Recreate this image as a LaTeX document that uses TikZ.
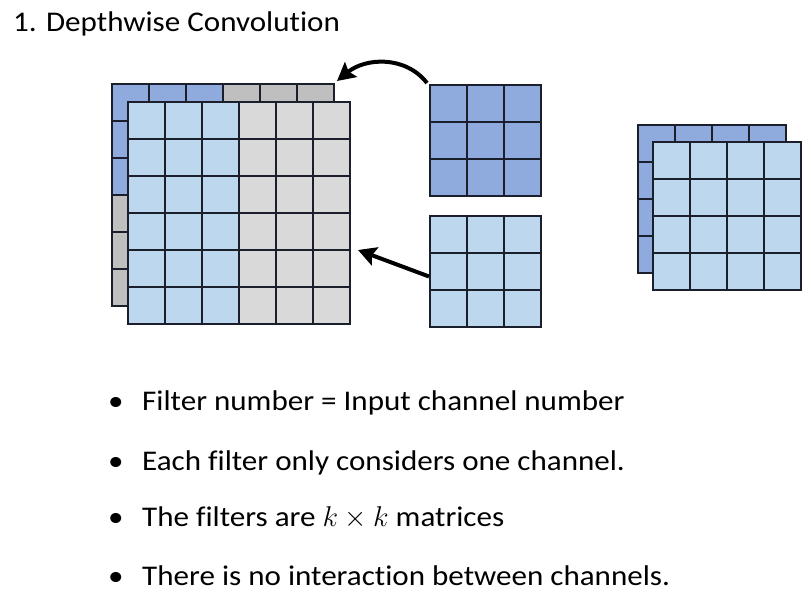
\documentclass[tikz,border=0pt]{standalone}
\usepackage{fontspec}
\setmainfont{Carlito}[Ligatures=CommonOff, FakeStretch=1.09]
\usepackage{xcolor}
\usepackage{tikz}
\usetikzlibrary{arrows.meta, positioning, calc}
\definecolor{dkblue}{HTML}{8FAADC}
\definecolor{ltblue}{HTML}{BDD7EE}
\definecolor{bkgray}{HTML}{BFBFBF}
\definecolor{ltgray}{HTML}{D9D9D9}
\definecolor{gridline}{HTML}{1A1F2B}
\tikzstyle{arrow} = [line width=4pt,-{Stealth[length=18pt,width=19pt,inset=3pt]}]
\tikzstyle{cell} = [rectangle, draw=gridline, line width=1.2pt, minimum size=37pt, inner sep=0pt, outer sep=0pt, anchor=north west]
\tikzstyle{bullettext} = [anchor=base west, inner sep=0pt, font=\fontsize{28.5}{34}\selectfont]

\begin{document}
\begin{tikzpicture}[x=1pt, y=-1pt]
    \useasboundingbox (0,0) rectangle (812,599);
    % Title
    \node[bullettext] (title) at (13,31.5) {1. Depthwise Convolution};

    % Input, back channel
    \foreach \r in {0,...,5}{\foreach \c in {0,...,5}{
        \ifnum\r<3 \ifnum\c<3 \def\cl{dkblue}\else\def\cl{bkgray}\fi\else\def\cl{bkgray}\fi
        \node[cell, fill=\cl] (inb-\r-\c) at ({112+37*\c},{84+37*\r}) {};
    }}
    % Input, front channel
    \foreach \r in {0,...,5}{\foreach \c in {0,...,5}{
        \ifnum\c<3 \def\cl{ltblue}\else\def\cl{ltgray}\fi
        \node[cell, fill=\cl] (inf-\r-\c) at ({128+37*\c},{102+37*\r}) {};
    }}

    % Filters
    \foreach \r in {0,...,2}{\foreach \c in {0,...,2}{
        \node[cell, fill=dkblue] (fa-\r-\c) at ({430+37*\c},{85+37*\r}) {};
        \node[cell, fill=ltblue] (fb-\r-\c) at ({430+37*\c},{216+37*\r}) {};
    }}

    % Output
    \foreach \r in {0,...,3}{\foreach \c in {0,...,3}{
        \node[cell, fill=dkblue] (outb-\r-\c) at ({638+37*\c},{125+37*\r}) {};
    }}
    \foreach \r in {0,...,3}{\foreach \c in {0,...,3}{
        \node[cell, fill=ltblue] (outf-\r-\c) at ({653+37*\c},{142+37*\r}) {};
    }}

    % Relationships
    \coordinate (fastart) at ($(fa-0-0.north west)+(-3,-2)$);
    \coordinate (faend) at ($(inb-0-5.north east)+(3,-3)$);
    \coordinate (fbstart) at ($(fb-1-0.west)+(-1,5)$);
    \coordinate (fbend) at ($(inf-4-5.north east)+(8,0)$);
    \draw[arrow] (fastart) .. controls +(-22,-28) and +(28,-23) .. (faend);
    \draw[arrow] (fbstart) -- (fbend);

    % Bullets
    \foreach \y/\txt [count=\i] in {410.7/{Filter number = Input channel number},
                                    470/{Each filter only considers one channel.},
                                    526.7/{The filters are \scalebox{1.15}{$k\times k$} matrices},
                                    585/{There is no interaction between channels.}}{
        \node[bullettext] (dot\i) at (108,\y) {•};
        \node[bullettext] (item\i) at (142,\y) {\txt};
    }
\end{tikzpicture}
\end{document}
